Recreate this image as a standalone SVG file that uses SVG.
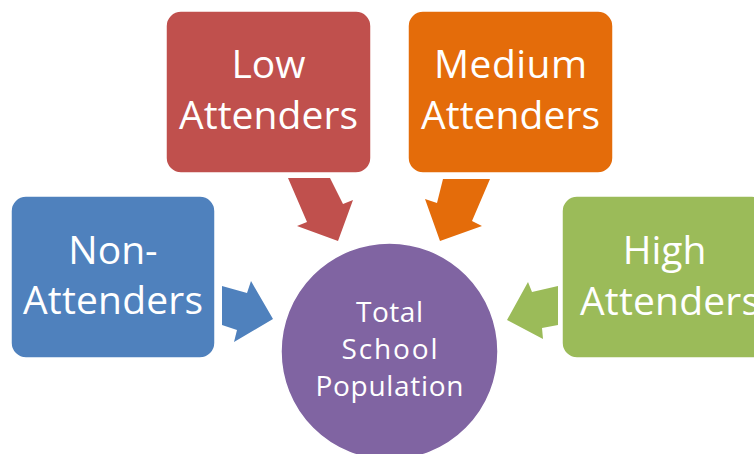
<svg xmlns="http://www.w3.org/2000/svg" width="754" height="454" viewBox="0 0 754 454">
<style>
.box{stroke:#fff;stroke-width:1.5}
.t{fill:#fff;font-family:"Open Sans","Noto Sans",sans-serif;font-size:39px;text-anchor:middle}
.c{fill:#fff;font-family:"Open Sans","Noto Sans",sans-serif;font-size:28px;text-anchor:middle}
</style>
<rect width="754" height="454" fill="#fff"/>
<g id="connectors">
<polygon fill="#C0504D" points="288,178 330,178 343,204 353,200 338,241 297,226 307,222"/>
<polygon fill="#E46C0A" points="443,179 490,179 472,221 482,226 440,241 425,199 437,203"/>
<polygon fill="#4F81BD" points="222,286 247,293 251,281 273,319 234,342 237,330 222,325"/>
<polygon fill="#9BBB59" points="558,286 532,292 528,282 507,320 543,339 542,328 558,325"/>
</g>
<g id="node-total">
<circle cx="389.5" cy="351.5" r="108.5" fill="#8064A2" class="box"/>
<text class="c" x="389.5" y="322" textLength="67">Total</text>
<text class="c" x="389.5" y="359" textLength="96">School</text>
<text class="c" x="389.5" y="396" textLength="148">Population</text>
</g>
<g id="node-low">
<rect x="166" y="11" width="205" height="162" rx="15" fill="#C0504D" class="box"/>
<text class="t" x="268.5" y="78" textLength="74">Low</text>
<text class="t" x="268.5" y="129" textLength="179">Attenders</text>
</g>
<g id="node-medium">
<rect x="408" y="11" width="205" height="162" rx="15" fill="#E46C0A" class="box"/>
<text class="t" x="510.5" y="78" textLength="153">Medium</text>
<text class="t" x="510.5" y="129" textLength="179">Attenders</text>
</g>
<g id="node-non">
<rect x="11" y="196" width="204" height="162" rx="15" fill="#4F81BD" class="box"/>
<text class="t" x="113" y="264">Non-</text>
<text class="t" x="113" y="314" textLength="180">Attenders</text>
</g>
<g id="node-high">
<rect x="562" y="196" width="205" height="162" rx="15" fill="#9BBB59" class="box"/>
<text class="t" x="664.5" y="264">High</text>
<text class="t" x="670" y="315" textLength="180">Attenders</text>
</g>
</svg>
